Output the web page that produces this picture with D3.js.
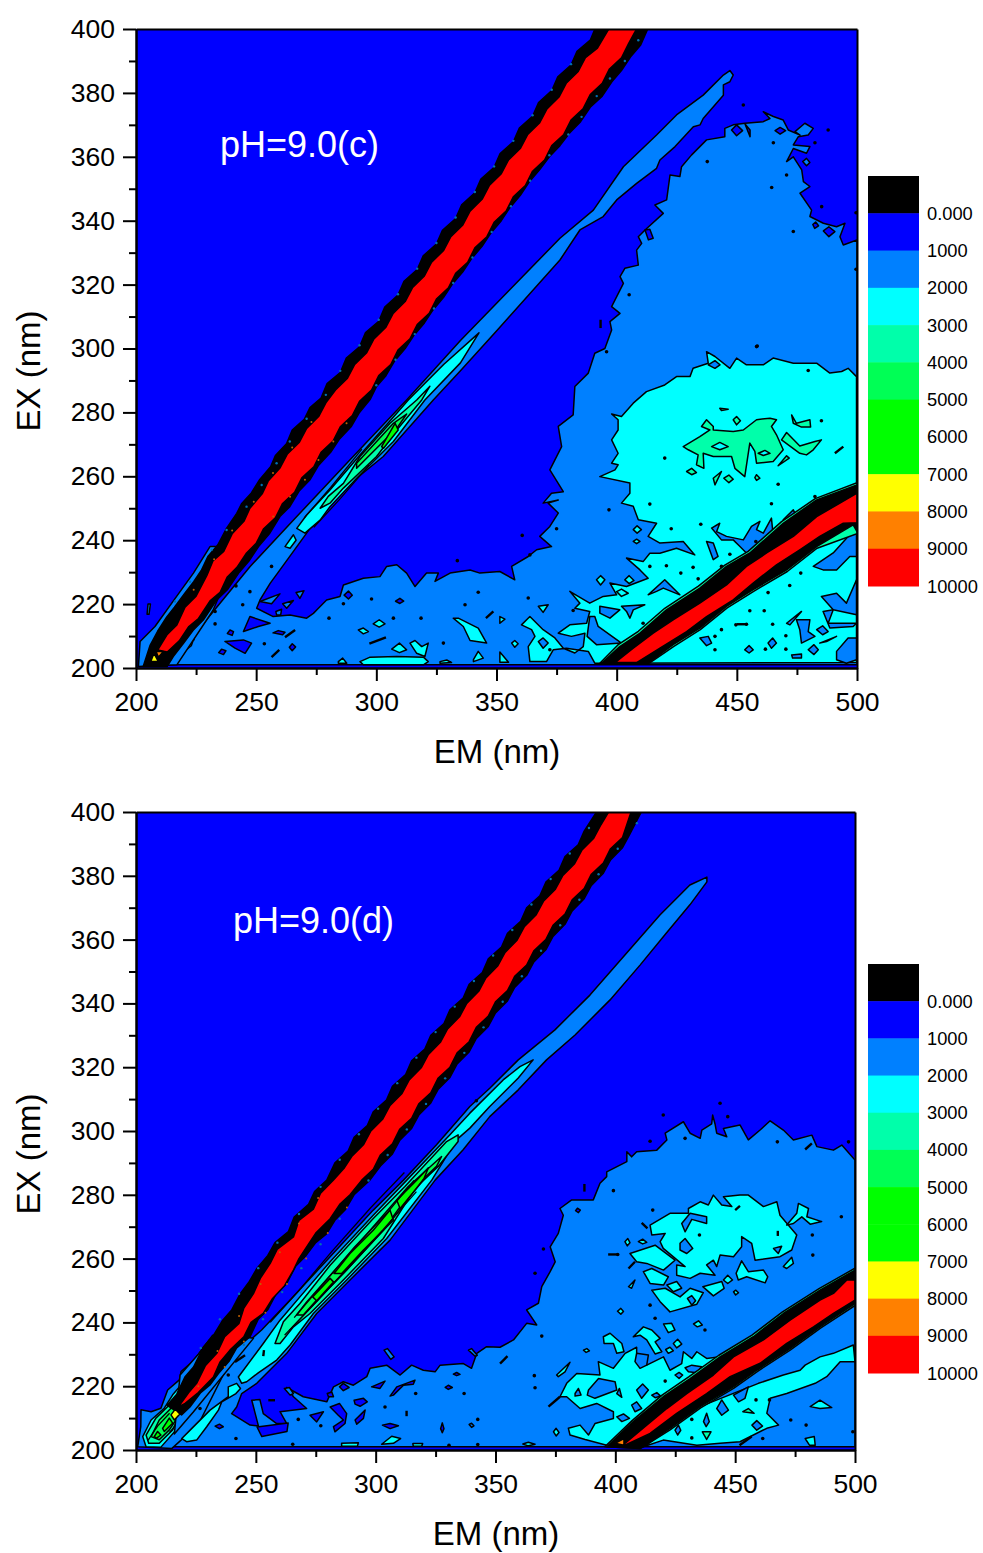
<!DOCTYPE html>
<html>
<head>
<meta charset="utf-8">
<style>
  body { margin: 0; background: #fff; }
  text { font-family: "Liberation Sans", Arial, sans-serif; fill: #000; }
  .region { stroke: #000; stroke-width: 1.5px; stroke-linejoin: round; }
  .axis path, .axis line { stroke: #000; stroke-width: 2px; }
</style>
</head>
<body>
<script src="https://d3js.org/d3.v7.min.js"></script>
<script>
// contour levels, legend
var levelColors = ["#000000","#0000ff","#0080ff","#00ffff","#00ffaa","#00ff55","#00ff00","#00ff00","#ffff00","#ff8000","#ff0000"];
var legendLabels = ["0.000","1000","2000","3000","4000","5000","6000","7000","8000","9000","10000"];
var emMajor = [200,250,300,350,400,450,500];
var emMinor = [225,275,325,375,425,475];
var exMajor = [200,220,240,260,280,300,320,340,360,380,400];
var exMinor = [210,230,250,270,290,310,330,350,370,390];

// ---------- pH=9.0(c) : contour outlines in [EM, EX] ----------
var cMain = [[214,201],[247.4,231.7],[266.9,247.4],[287.7,264.1],[312.6,283.9],[335,302.5],[355,318],[376.4,334.5],[390.3,343.3],[402.8,356.9],[416.6,366.8],[424.9,373.1],[436,379.3],[444.4,385.6],[447.1,387],[448.5,385.6],[447.1,383.5],[444.4,382.5],[444.4,379.3],[436,372],[434.7,370],[431.9,369.4],[424.3,363.2],[418,359],[416.6,356.4],[408.3,351.7],[400,346.5],[394.4,341.3],[384.7,337.1],[376.4,327.7],[350,305.5],[335,293],[323.7,283.9],[302.9,266.2],[280.7,252.6],[271,242.2],[259.9,230.7],[255.8,226.5],[251.6,221.3],[250.2,218.7],[257.1,216.1],[264.1,216.6],[271,215.6],[273.8,217.1],[275.9,218.7],[279.3,221.3],[284.9,222.4],[286.3,226],[294.6,228.1],[301.5,228.6],[304.3,231.8],[308.5,232.3],[312.6,229.7],[316.1,225.5],[320.9,229.7],[325.8,229.7],[324.4,227.1],[330.7,229.7],[339,230.7],[343.1,229.7],[351.4,230.2],[357.6,227.6],[356.3,231.8],[363.2,234.9],[366.7,237],[372.9,238],[368,241.2],[372.2,244.3],[375.7,248.5],[371.5,251.6],[375.7,252.6],[369.4,251.6],[372.9,254.7],[377.8,255.2],[372.2,262],[377.1,269.3],[375.7,275.6],[381.9,279.2],[382.6,288.1],[388.2,292.3],[390.9,298.5],[395.1,300],[397.9,305.8],[397.2,308.4],[401.4,311],[397.9,313.1],[402.8,320.4],[401.4,322.5],[403.4,325.1],[409,326.1],[408.3,330.8],[410.4,332.9],[409,335],[411.8,337.1],[419.4,342.3],[415.9,344.9],[420.8,346.5],[422.2,354.3],[426.3,353.8],[427,356.9],[431.2,360.6],[437.4,365.3],[445,366.3],[445,368.9],[448.5,370],[453.4,370.5],[461,371],[463.8,372],[461,374.1],[465.2,372.6],[469.3,371.5],[471.4,368.4],[476.3,366.8],[474.2,367.9],[478.3,370.5],[481.8,368.9],[479.7,366.8],[475.6,366.3],[473.5,363.7],[480.4,363.2],[479,361.1],[473.5,362.6],[470.7,358.5],[473.5,360],[477,355.9],[477.7,352.2],[480.4,350.7],[476.3,348.6],[481.1,343.3],[480.4,341.3],[486,339.2],[491.5,338.1],[495,339.2],[492.9,335],[494.3,332.4],[500,334],[500,201]];
var cDarkIslands = [
 [[244.7,211.4],[247.4,216.1],[255.8,214],[250.9,213]],
 [[237,208.3],[244.7,208.8],[248.1,207.8],[245.4,204.6],[241.2,206.2]],
 [[239.1,211.9],[238,210.8],[240,210.2],[240.6,211.4]],
 [[259.2,211.7],[257,211],[261,210.4],[262,211.2]],
 [[235.6,205.9],[234.4,204.8],[236.4,204.2],[237.4,205.4]],
 [[265,207.6],[263.8,206.5],[265,205.4],[266.4,206.6]],
 [[309.8,221.8],[308,220.9],[309.8,220.2],[311.4,220.9]],
 [[288.4,224.1],[286.6,222.8],[288.4,221.6],[290,222.8]],
 [[447.8,368.4],[449.9,370],[452.4,368.2],[449.9,366.6]],
 [[465.9,368.2],[468,369.2],[470.3,368.2],[468,367.1]],
 [[486,336.8],[488.3,338.1],[490.8,336.6],[488.3,335]],
 [[411.8,337.1],[413.8,337.3],[415.2,334.5],[413.2,334]],
 [[453.4,370.3],[455.5,366.3],[455.5,368.4]],
 [[482.8,339.6],[484,338.4],[482.4,337.6],[481.6,338.8]]
];
var cLightIslands = [
 [[251.6,220.8],[259.9,223.2],[256.4,220.1]],
 [[261,220.1],[265.5,221.1],[262.7,218.7]],
 [[266.6,223.6],[269.9,224.2],[268.2,221.8]],
 [[258.2,217.7],[260.6,218.4],[260.2,216.6],[258.5,216.6]],
 [[477.4,358.5],[479,359.5],[480.4,358.2],[479,357.2]],
 [[205,220],[206,220],[205.4,216.8],[204.6,216.8]]
];
var cCyanMain = [[499.8,291.2],[496.3,293.8],[493.6,292.8],[488.7,292.3],[483.2,295.4],[473.5,295.4],[465.1,297],[461,294.9],[454,294.9],[449.9,297],[447.1,293.8],[440.9,297.5],[437.4,299],[438.1,295.4],[431.8,293.8],[430.5,291.2],[424.9,291.2],[420,288.6],[412.4,286.5],[406.9,282.9],[402,278.7],[397.9,279.5],[400.6,277.7],[400.6,274.5],[397.9,271.4],[400.6,267.2],[397.9,264.1],[400.6,263.6],[399.3,262],[393,259.9],[405.5,257.9],[405.5,254.7],[402,251.6],[406.9,250.6],[409,246.4],[416.6,245.3],[413.1,241.2],[418,239.1],[427.7,239.6],[432.5,235.4],[424.9,237.5],[418,235.9],[413.8,235.9],[411,233.3],[404.1,234.4],[409.7,230.7],[413.1,228.1],[404.1,225.5],[397.2,226.6],[400,222.9],[394.4,222.4],[388.8,220.3],[384,222.4],[380.5,224],[384.7,220.3],[382.6,218.7],[388.8,217.7],[387.5,214],[380.5,213.5],[375.7,210.9],[381.2,209.9],[386.8,210.9],[386.1,206.7],[382.6,204.7],[377.8,206.2],[374.3,209.4],[369.4,212],[363.9,216.1],[360.4,213.5],[364.6,212],[366,209.9],[363.2,206.7],[363.9,202],[370.8,202],[373.6,205.7],[379.1,206.2],[388.2,205.2],[390.9,201.5],[499.8,201.7]];
var cCyanIslands = [
 [[292.5,211.9],[294.6,212.5],[296.7,211.4],[294.6,210.7]],
 [[298.7,213.8],[301.2,215.1],[303.6,213.8],[301.2,212.8]],
 [[306.4,205.9],[309.6,207.8],[312.6,205.7],[309.6,204.8]],
 [[314,207.8],[316.1,208.6],[318.9,206.7],[321.6,207.8],[320.2,203.6],[316.8,204.6]],
 [[293.2,202],[297.4,203.4],[308.5,203.6],[319.6,203.4],[321.6,202],[319.6,201],[294.6,201]],
 [[284.2,202],[286,203.1],[287.7,201.5],[284.2,201.5]],
 [[326.5,202],[329.3,202.5],[331.3,201.7],[326.5,201.5]],
 [[340.4,202.6],[342.4,205.2],[344.5,203.1],[340.4,202]],
 [[332,215.6],[334.1,215.6],[342.4,212.5],[345.9,207.8],[339,208.6],[336.2,213]],
 [[356.3,207.8],[357.6,208.6],[359,207.6],[357.6,206.5]],
 [[351.4,216.1],[353.5,215.3],[351.4,214]],
 [[351.4,205],[355,201.8],[351.4,201.8]],
 [[391.6,227.6],[393.3,228.9],[395.1,227.6],[393.3,226]],
 [[403.4,227.6],[405.2,228.9],[407.2,227.4],[405.2,226.4]],
 [[400,223.9],[402,224.7],[404.8,223.4],[402,222.4]],
 [[406.9,243.3],[408.5,244.5],[410.3,243.3],[408.5,242.2]],
 [[406.9,239.6],[408.3,240.3],[409.7,239.6],[408.3,238.9]],
 [[367.4,219.3],[371.5,219.8],[369.4,217.4]],
 [[262,238],[265.5,241.7],[266.6,240],[264.1,237.5]],
 [[266.9,243.7],[271,247.9],[280.7,255.7],[293.2,266.7],[308.5,279.7],[313.3,283.9],[328,295],[342.7,304.9],[335,295.5],[320.2,283.9],[307.1,270.9],[291.8,259.4],[280.7,250.5],[276.6,246.3],[270.3,242.2]],
 [[201.7,201.5],[203.3,206.2],[207.9,211.9],[208.6,208.8],[204.4,201.5]],
 [[214,201.5],[226,213.5],[223,207]]
];
var cLightOnCyan = [
 [[469.3,246.4],[473.5,249.5],[475.1,246.9],[472.8,245.3]],
 [[439.5,243.8],[442.9,245.3],[441.6,242.7],[445.7,241.2],[452.7,240.1],[456.1,244.3],[459.6,245.9],[458.2,243.3],[461,242.2],[464.4,246.9],[465.1,241.7],[455.4,234.9],[451.3,238],[448.5,240.1],[443.6,240.1]],
 [[437.4,239.6],[440.2,239.1],[442.2,234.9],[440.2,233.9]],
 [[413.1,222.9],[420,227.6],[426.3,222.9],[419.4,225],[416.6,224]],
 [[393,219.3],[401.3,218.2],[397.2,215.6],[393,217.2]],
 [[402,219.3],[411.7,219.8],[406.9,218.2],[405.5,215.6],[404.1,217.7]],
 [[388.8,216.1],[390.9,216.1],[392.3,213],[402,207.8],[391.6,207.3],[387.7,209.9]],
 [[367.4,208.3],[369.4,209.4],[371.5,207.8],[369.4,206.2]],
 [[438.1,294.9],[440.9,296.2],[443,294.9],[440.9,293.8]],
 [[481.8,231.8],[490.1,236],[496.4,241.2],[499.8,242.7],[499.8,234.9],[497,234.9],[491.5,230.7],[485.9,230.7]],
 [[485.2,222.4],[491.5,223.4],[495.6,220.3],[499.8,227.6],[499.8,216.7],[490.1,218.2]],
 [[485.9,217.7],[490.1,218.2],[488,214],[499.8,214],[498.4,213],[488.7,212.5]],
 [[474.8,215.1],[480.4,215.1],[479.7,211.4],[482.5,209.9],[476.9,207.8],[476.2,212]],
 [[483.2,212],[485.7,213.2],[488,211.4],[485.7,210.4]],
 [[484.5,207.8],[491.5,209.9],[487.3,208.3]],
 [[479.7,205.7],[482.1,207.3],[483.9,205.7],[482.1,204.2]],
 [[491.5,205.2],[496.3,209.4],[499.8,209.4],[499.8,202.6],[495.6,201.5],[491.5,202.6]],
 [[463,207.8],[464.9,209.4],[466.5,207.8],[464.4,206.2]],
 [[434.6,209.4],[438.1,209.9],[439.5,207.8],[437.4,207]],
 [[453.3,205.7],[455.1,207],[456.8,205.7],[455.1,204.7]],
 [[470.7,214],[476.9,217.7],[472.1,213.5]],
 [[472.8,204.1],[476.9,204.4],[476.9,203.1],[473.2,203.1]]
];
var cTeal = [
 [[427.7,269.3],[434.6,272.4],[438.8,274.5],[435.3,275.6],[437.4,277.7],[440.2,275.6],[440.2,274.5],[448.5,274],[452.7,274.5],[458.2,277.7],[463.8,278.2],[466.5,277.7],[464.4,275.6],[466.5,273],[469.3,268.3],[465.1,264.6],[458.2,264.1],[457.5,267.8],[455.4,270.4],[453.3,259.9],[449.2,262.5],[447.8,266.2],[440.2,266.2],[436,267.2],[436.3,262.5],[433.2,263.6],[433.9,266.7],[429.8,268.3]],
 [[468.6,271.4],[470.7,273.7],[476.2,269.5],[482.5,270.9],[485.2,271.4],[481.8,268.3],[479,266.7],[476.2,267.2]],
 [[472.8,279.2],[474.8,276.6],[480.4,277.7],[480.7,275.4],[476.9,275.4],[473.5,276.6]],
 [[448.5,277.7],[449.9,278.7],[451.5,277.4],[449.9,276.1]],
 [[429.1,261.5],[431.2,262.5],[433.2,261.2],[431.2,260.5]],
 [[444.6,259.4],[446.7,260.4],[448.5,259.1],[446.7,258]],
 [[440.2,259.4],[443.6,261.5],[440.9,257.3]],
 [[467.2,263.3],[470.7,266.4],[471.8,265.7]],
 [[442.9,281.3],[446.4,281],[443.6,280.6]],
 [[458.2,260.5],[459.6,259.4],[458.2,258.7],[457.5,259.6]],
 [[276.6,250],[280,253.7],[286.3,257.8],[293.2,266.2],[305.7,276.6],[316.8,283.9],[322.3,288.2],[318.9,283.9],[308.5,274.5],[300.1,266.2],[286.3,256.3],[280.7,251.6]]
];
var cCyanHoles = [
 [[439.5,269.3],[442.9,270.6],[446.4,269.3],[442.9,268.3]],
 [[458.9,267.2],[461.7,268.1],[463.8,267.2],[461,266.5]]
];
var cGreen5 = [[[291.8,264.1],[307.1,276.6],[312.6,279.5],[308.5,275],[300.1,268.8],[291.8,262.5]]];
var cGreen6 = [[[302.2,269.3],[307.8,276.6],[309.1,274.5],[303,268.8]]];
var cDots = [[256.4,231.8],[241.6,225.7],[247.4,223.9],[244.4,219.8],[280.3,215.6],[307.1,215.6],[318.6,215.6],[298,221.6],[342.4,223.7],[336.9,219.8],[286.3,220.1],[232.9,217.7],[232.9,213.8],[253.4,207.6],[327.9,207.8],[333.7,233.6],
 [420,265.7],[467.2,257.5],[482.5,253.7],[464.4,251.4],[413.8,251.3],[396.8,249.5],[435,245],[422.7,243.6],[375,243.6],[360.7,241.5],[363.9,235.4],[395.8,299],[458.5,300.8],[479.7,293.1],[485.2,277.4],[447.1,235.6],[443.6,231.8],[420.7,232],[413.8,231.8],[426.7,229.7],[431.8,231.5],[433.9,227.9],[457.9,239.6],[476.6,229.7],[472,225.8],[463,223.6],[455.4,217.9],[461.4,217.9],[464.9,213.7],[454,213.7],[449.6,213.5],[443.6,212],[440.9,209.9],[470.4,210.1],[440.9,205.7],[461.9,205.9],[470.4,205.9],[411,214],[372.2,205.7],[381.9,218],[363.2,221.9],
 [452.7,376.2],[488,368.4],[437.7,358.5],[465.2,364.4],[482.5,364.4],[470.7,354.3],[464.5,350.4],[405.2,316.8],[458.2,300.6],[485.3,344.4],[473.5,336.6],[499.6,342.5],[499.6,324.8]];
var cStrokes = [[[262,209.6],[266.2,211.9]],[[256.4,203.4],[259.6,205.7]],[[297.1,207.6],[304,209.6]],[[345.6,215.6],[348.7,217.7]],[[223.9,210.4],[223.9,208.6]],[[490.8,267.2],[494.3,269.3]],[[393.3,309],[393.3,306.4]],[[454,213.7],[450,213.7]]];
var cRamanLines = [[[270,247],[281,256.5],[294,268.5]],[[274,244],[285,253],[297,263.5]]];

// first order scatter band, pH=9.0(c)
var cFringe = [[201,200.5],[201.7,208.3],[207.9,213],[216.9,222.4],[223.9,229.7],[230.8,238],[238,238],[240,232],[232,218],[217,201]];
var cBlackLeft = [[203,200.5],[205.8,207],[209,211.5],[212.8,216],[216,219],[220.4,223.5],[224,227],[227.3,230.7],[230,235],[234,238.5],[237.5,243.5],[241.9,248.4],[244,251.5],[248,254.8],[251.5,259],[256,263],[258,266.5],[262.7,270.3],[265,274.5],[270,277.8],[272.4,281.5],[277,284.5],[279.5,289],[285,292.5],[287.5,297],[293,300.5],[295.5,305],[301,308.5],[303.5,313],[309,316.7],[311.5,321],[317,324.7],[319.5,329],[325,332.7],[327.5,337],[333,340.7],[335.5,345],[341,348.7],[343.5,353],[349,356.7],[351.5,361],[357,364.7],[359.5,369],[365,372.7],[367.5,377],[373,380.7],[375.5,385],[381,388.7],[383.5,393],[389,396.5],[391.5,401]];
var cBlackRight = [[213,200.5],[215.5,203.6],[220,208],[224,212],[228,215],[233.6,221.3],[238,224.5],[243,230],[247,233.5],[251,238],[255.5,242],[259.9,247.4],[264,250.5],[268,255.5],[272.5,259],[276,263.5],[281,267.5],[284.5,271.5],[289.5,275.5],[293,280],[297.4,284],[300,288],[304,291.5],[307.5,296],[312,300],[315.5,304],[320,308],[323.5,312],[328,316],[331.5,320],[336,324],[339.5,328],[344,332],[347.5,336],[352,340],[355.5,344],[360,348],[363.5,352],[368,356],[372,360],[376.4,363.5],[380.5,367.5],[385,371],[389,375.5],[394,379],[398,383.5],[402,387],[406,391.5],[410,395],[413.5,401]];
var cRedLeft = [[209,205.6],[213,210.5],[217,213.5],[220.4,219],[225,222.5],[229.5,229],[232,233.5],[236.5,236.5],[240,242],[245,246],[247.4,250],[252.5,254.5],[255,258.5],[260,262.7],[263,267],[268,270.7],[271,275],[276,278.7],[279,283],[283,287],[288,290.7],[291,295],[296,298.7],[299,303],[304,306.7],[307,311],[312,314.7],[315,319],[320,322.7],[323,327],[328,330.7],[331,335],[336,338.7],[339,343],[344,346.7],[347,351],[352,354.7],[355,359],[360,362.7],[363,367],[368,370.7],[371,375],[376,378.7],[379,383],[384,386.7],[387,391],[392,394],[397.5,401]];
var cRedRight = [[213,205],[218,208.5],[222,213],[226,215.5],[230.8,221],[235,223.7],[238,228.5],[242,231.5],[246,236],[250,239],[253,243.5],[258,247],[261,251.5],[266,255],[269,259.5],[274,263],[277,267.5],[282,271],[285,275.5],[290,279],[293,283.5],[298,287],[301,291.5],[306,295],[309,299.5],[314,303],[317,307.5],[322,311],[325,315.5],[330,319],[333,323.5],[338,327],[341,331.5],[346,335],[349,339.5],[354,343],[357,347.5],[362,351],[365,355.5],[370,359],[373,363.5],[378,367],[381,371.5],[386,375],[389,379.5],[394,383],[397,387.5],[402,391],[405,395.5],[409,401]];
// second order scatter band, pH=9.0(c)
var cFringe2 = [[393,201.5],[400.5,207.2],[409,211.5],[420,218.7],[434,225.6],[445,232.2],[454.7,236.5],[468.6,245.8],[482.6,253],[500,258],[500,242],[483.4,237.5],[471,230.2],[457,224],[446,218.8],[434.8,212],[423.8,206.8],[413.6,201.5]];
var cBlack2 = [[393.7,201.5],[401.3,206.7],[409.7,210.9],[420.7,218.2],[434.6,225],[445.7,231.8],[455.4,236],[469.3,245.3],[483.2,252.6],[500,257.3],[500,242.7],[498.4,244.8],[483.2,238],[470.7,230.7],[456.8,224.5],[445.7,219.3],[434.6,212.5],[423.5,207.3],[413.1,201.5]];
var cRed2 = [[399.3,201.7],[406.9,206.2],[415.2,210.9],[423.5,215.1],[434.6,220.3],[445.7,226],[454,231.8],[462.4,236],[473.5,241.2],[483.2,247.4],[492.9,251.6],[500,254.7],[500,245.5],[494.3,245.3],[484.5,241.2],[476.2,237],[466.5,232.3],[456.8,226.6],[448.5,221.3],[437.4,216.1],[429.1,211.4],[418,206.2],[408.3,201.7]];
var cYellow = [[[206.1,202],[207.5,204.6],[209.3,202]]];
var cOrange = [[[208.3,205.2],[211.4,205.2],[209.3,203.4]]];
var cSpecksLight = [[216.2,220.8],[222.5,227],[231.5,237],[237.7,243.2],[246,250.5],[252.3,257.3],[258.5,264.1],[264,270.9],[271,278],[279,285.5],[285,293],[293,301],[301,309],[309,317],[317,325],[325,333],[333,341],[341,349],[349,357],[357,365],[365,373],[373,381],[381,389],[300,288.5],[308,296.5],[316,304.5],[324,312.5],[332,320.5],[340,328.5],[348,336.5],[356,344.5],[364,352.5],[372,360.5],[379.9,367],[385.4,372.5],[391.7,379],[397.2,384.5],[403.4,390],[409,396.5]];
var cSpecksOrange = [[287.6,276.6],[282.1,270.9],[275.9,265.1],[270.3,258.9],[264.1,253.6],[257.1,247.4],[224,224.5],[232.5,234],[240,243],[249,252],[257,261],[265,269],[273,277]];

// ---------- pH=9.0(d) ----------
var dMain = [[215,201],[222,211],[232,222],[244,232],[252.4,237.6],[264.3,247],[281,260.6],[299,275.2],[311.6,284.6],[325.4,295.7],[339.3,307.7],[347.6,313.4],[359.5,322.3],[374.8,331.7],[389.4,342.6],[404,355.2],[418.6,367.7],[431.1,377.1],[438.2,379.6],[438.2,378.1],[431.1,370.9],[420.7,361.5],[410.3,352],[397.8,341.1],[383.2,330.1],[371.3,322.3],[359.5,312.9],[347.6,304.5],[336.5,294.1],[324.8,284.6],[306,265.8],[289.3,253.3],[275.4,242.8],[262.9,230.3],[250.4,220.9],[244.1,217.7],[242,213.5],[239.9,211.4],[247.6,207.8],[251.1,207.5],[248.3,215.6],[251.7,215.8],[253.1,211.4],[258.7,208.3],[262.9,208.3],[260.1,212],[271.2,213],[265.7,216.7],[262.9,219.6],[269.8,216.7],[279.6,215.1],[282.4,219.8],[286.5,221.4],[290.7,220.3],[296.3,223],[297.7,225.6],[304.6,226.6],[310.2,223.5],[315,226.6],[319.9,225],[324.8,224.5],[326.9,226.6],[336.6,227.1],[340,225.6],[342.2,230.3],[346.3,232.4],[351.9,232.2],[357.5,234.5],[363,239.7],[367.2,239.2],[363,243.9],[367.9,246],[369.3,251.2],[372.8,255.9],[374.9,259],[372.8,263.7],[376.2,267.9],[378.3,273.6],[376.9,275.7],[381.8,278.4],[390.8,278.4],[393.6,283.6],[396.4,285.7],[396.4,287.2],[404.8,290.4],[404.8,293.5],[406.8,291.9],[408.9,293.5],[417.3,294],[421.5,297.2],[420.8,299.3],[428.4,302.9],[431.2,299.3],[435.4,297.7],[436.1,300.3],[440.2,302.2],[440.6,305],[441.6,302.2],[442.3,299.3],[446.5,298.2],[445.1,300.8],[452,301.9],[455.5,297.2],[460.4,300.3],[464.6,303.2],[470.1,300.3],[474.3,297.2],[482,298.7],[484.1,295.1],[491,294],[494.5,295.6],[500,290.9],[500,201]];
var dFoot = [[200.7,201],[202,207.3],[202.1,212.6],[206.3,212],[210.4,213.1],[213.2,218.8],[218.1,222],[218.8,224.6],[224.3,228.2],[230.6,234.5],[238,226],[226,208],[215,200.5]];
var dDarkIslands = [
 [[250.5,207.2],[263.5,208.5],[263,205.8],[252.5,204.2]],
 [[298.3,219.8],[303.9,221.6],[301.8,219.3]],
 [[306,216.9],[308.8,219.8],[316.4,221.9],[315.7,220.6],[311.6,220.3],[307.4,217.2]],
 [[284.9,219.8],[286.5,220.9],[288.9,219.6],[286.5,218.6]],
 [[279.8,217.7],[281.7,218.2],[282.4,216.7],[280.3,216.7]],
 [[291,215.6],[294.9,216.2],[296.5,215.1],[293.5,213.7],[291.4,214.4]],
 [[281,213.5],[284.9,214.6],[287.9,211.4],[287.2,208.3],[283,205.7],[282.4,207.3],[286.5,209.4],[284.4,210.9]],
 [[291.4,209.4],[295.6,212.5],[294.9,209.9],[292.1,208.1]],
 [[302.8,207.8],[306,208.3],[309.5,207.6],[306,206.7]],
 [[272.6,210.9],[278.2,212],[275.4,208.8]],
 [[233,207.5],[234.8,208.1],[236.4,207.3],[234.8,206.7]],
 [[327.1,206.7],[327.8,208.5],[328.5,206.7],[327.8,205.4]],
 [[329,219.6],[330.3,220.3],[332,219.6],[330.3,219]],
 [[332.4,223.8],[333.8,224.3],[335.2,223.7],[333.8,223.3]],
 [[384.2,275.8],[385.4,275.2],[384.6,274.4],[383.4,275]]
];
var dLightIslands = [
 [[338.7,231.3],[340,231.8],[342.4,229.7],[341.5,229.4]],
 [[303.5,231.3],[304.9,231.8],[307.7,229.2],[306.3,228.4]],
 [[261.9,219.3],[264,219.6],[265.7,217.7],[264.3,217.2]],
 [[339,208],[340,208.4],[341,207.6],[340,207.1]]
];
var dCyan = [
 [[414.5,270.5],[422.8,274.2],[430.5,274.2],[430.5,275.7],[435.4,277.8],[438.8,276.8],[440.9,279.9],[444.4,276.8],[448.6,276.3],[445.1,279.4],[452,279.9],[455.5,279.9],[461.8,276.3],[467.4,277.8],[468.7,273.6],[475.7,267.4],[473.6,262.7],[468.7,260.6],[458.3,259.5],[456.9,264.8],[452.7,266.9],[452.7,263.7],[449.3,260.6],[443.7,261.1],[442.3,257.5],[440.9,259.5],[438.1,258],[441.6,254.8],[435.4,255.4],[431.2,253.8],[425.6,254.8],[425.6,258],[429.1,257.5],[420,263.2],[418.7,265.3],[420.8,267.9],[415.2,267.4]],
 [[471.5,270.5],[475.7,274.2],[476.4,277.3],[480.6,275.7],[479.9,273.1],[486.1,271.6],[481.3,270.8],[477.8,273.1],[474.3,271]],
 [[406.1,261.6],[416.6,264.2],[424.9,259.5],[420.1,256.4],[413.1,258.5],[408.9,259]],
 [[411.7,255.9],[415.2,256.9],[422.1,254.3],[420.1,251.7],[414.5,252.2]],
 [[421.5,251.7],[425.6,252.8],[427.7,250.7],[424.2,249.6]],
 [[415.2,250.1],[420.8,250.7],[427,248],[431.2,250.7],[436.7,249.3],[434,245.7],[422.8,243.3],[418.7,246.5]],
 [[436.5,251.2],[444.4,252.8],[445.4,250.7],[440.9,248.3]],
 [[445.1,253.3],[446.9,254.8],[448.9,253.3],[446.9,252.2]],
 [[450.4,255.4],[452.7,259.3],[455.5,255.9],[461.8,256.4],[463.6,254.3],[462.5,252.4],[454.8,254.3],[451.3,253.3]],
 [[449.3,249.6],[450.2,250.1],[451.4,249.3],[450.2,248.6]],
 [[470.1,257.5],[473.6,260.4],[474.3,258.5],[471.5,256.9]],
 [[405.5,251.2],[408.2,253.3],[406.8,250.7]],
 [[404,265.3],[405.2,266.3],[406.1,265],[405,264]],
 [[409.6,265.3],[411.4,266.1],[413.1,265.1],[411.4,264.6]],
 [[400.9,243.5],[402.3,244.4],[403.4,243.4],[402.3,242.6]],
 [[376.9,216.7],[379.7,220.9],[383.9,224],[393.6,223.5],[392.9,227.7],[399.2,225.6],[404.1,230.3],[408.9,232.2],[408.9,227.2],[413.1,226.6],[420.1,229.2],[422.8,225],[427.7,227.1],[428.4,230.8],[431.9,228.7],[434,230.8],[438.1,228.7],[443.7,229.2],[438.1,219.8],[407.5,201],[396.4,201.5],[387.4,203.3],[381.1,204.7],[380.4,206.8],[385.3,207.8],[388.8,204.7],[391.5,208.3],[399.2,209.9],[399.2,212],[392.2,214.6],[385.3,213],[379.7,216.7]],
 [[395,235.5],[397.8,236.6],[402.7,233.4],[403.6,230.8],[400.6,230.3],[399.2,233.4],[395.3,233.4]],
 [[407.5,235.5],[411.7,238.6],[415.2,237.6],[418.7,235],[416.6,233.9],[419.4,230.8],[416.6,230.1],[413.1,234.5],[410.3,236]],
 [[420.1,239.5],[423.5,239.7],[424.9,237.6],[422.1,236.8]],
 [[432.6,239.5],[434.7,240.5],[436.3,239.2],[434.2,238.6]],
 [[424.2,233.4],[426,234.7],[427.7,233.2],[425.6,232]],
 [[421,231.5],[422.8,232.2],[424.2,231.1],[422.1,230.3]],
 [[386.7,231.3],[388.1,231.8],[389.2,231.1],[387.8,230.6]],
 [[375.5,223.5],[381.1,227.5],[379,224.5],[376.2,223]],
 [[374.2,205.7],[375.3,206.8],[376.5,205.5],[375.3,204.4]],
 [[361.4,201.9],[363.7,202.4],[366.5,201.8],[363.7,201.3]],
 [[459.7,220.9],[470.1,223.5],[477.1,225],[479.2,226.6],[485.4,229.2],[491,230.3],[499.3,232.9],[500,227.7],[493.8,227.7],[488.2,223],[483.4,220.9],[471.5,217.7],[464.6,216.2],[463.2,211.5],[468.1,207.8],[463.2,206.8],[452,202.6],[443.7,202.1],[434,201.5],[420,203.1],[411.7,201],[435.4,213.6]],
 [[481.3,213.6],[485.4,215.6],[490.3,213.3],[485.4,213]],
 [[479.2,203.6],[483,204.2],[483.4,201.5],[481,201.5]],
 [[285.8,202.1],[292.8,202.3],[292.4,201.2],[285.8,201.2]],
 [[302.5,201.8],[306.7,204.3],[310.4,203.6],[307.4,202.1]],
 [[315.5,202],[319.6,202],[319.2,201.2],[315.7,201.2]],
 [[219.1,203.6],[223.2,206.7],[230.9,212.5],[238.5,216.7],[238.5,219.8],[242,220.9],[243.6,219.3],[241.7,217.7],[235.8,215.1],[234.4,212.5],[229.5,207.3],[225.3,203.1],[221.1,202.6]],
 [[242.7,222.9],[253.1,233.4],[260.1,240.7],[268.4,248],[281,259],[299,273.6],[313,284.6],[331,298.8],[339.3,305.6],[353.2,316],[360.2,320.2],[365.7,322.3],[359.5,316.6],[347.6,307.7],[339.3,300.9],[333.7,297.2],[323.4,284.6],[304.6,266.3],[287.9,253.3],[274,242.8],[264.3,232.9],[258.7,228.2],[251,224.2],[246.2,221.4],[244.1,220.9]],
 [[202.8,204.2],[206.3,209.4],[211.8,213.1],[215.3,217.3],[218.8,220.4],[223.6,216.7],[216.7,206.3],[210.4,200.9],[204.2,201]]
];
var dCyanHoles = [
 [[427,264.8],[429.1,266.3],[432.3,263.2],[429.8,261.6],[427,262.7]],
 [[427.7,271],[431.2,274.2],[438.1,273.1],[438.1,271],[431.9,272.3],[429.1,268.4]],
 [[466,263.2],[469.4,263.9],[468,261.6]],
 [[430.1,247.5],[431.9,248.4],[433.5,246.8],[431.9,245.4]],
 [[388.8,218.8],[393,222.4],[399.9,221.4],[400.6,218.8],[391.5,216.2],[388.3,217.2]],
 [[383.2,217.7],[384.6,219.3],[385.7,217.2],[383.2,216.9]],
 [[408.9,218.8],[411.4,220.7],[413.8,218.8],[411,216.2]],
 [[400.6,217.7],[401.7,219.3],[402.7,216.5]],
 [[406.8,214.1],[408.9,215.1],[411,213],[408.2,212]],
 [[400.6,210.4],[403.4,211.3],[405.9,209.9],[402.7,208.9]],
 [[415.2,217.2],[417.3,218],[418.9,216.9],[416.6,216.4]],
 [[408.9,230.3],[413.8,229.8],[413.1,226.6],[410.3,225.6],[408.2,227.7]],
 [[429.1,225.8],[431.9,226.6],[436,226.1],[434,224.2],[430.5,224.5]],
 [[424.9,223.5],[426.6,224.3],[428.1,223.5],[426.6,222.4]],
 [[449.3,217.2],[455.5,219.8],[454.1,216.2],[451.4,215.1]],
 [[442.3,213],[444.4,215.7],[447.2,212.5],[444.4,210.9]],
 [[436.8,208.9],[438.1,211.5],[439.2,208.9],[437.9,207.3]],
 [[424.9,206.2],[426.3,207.8],[427.3,206.2],[426,204.7]],
 [[457,207.8],[459,209.2],[461.4,207.5],[459,206.2]]
];
var dTeal = [
 [[453.2,212],[455.5,213],[457.9,211.5]],
 [[436.3,205.7],[439.9,205.7],[438.1,203.3]],
 [[258,233.4],[261.5,240.2],[268.4,245.9],[281,257.9],[299,272.6],[312.2,282.6],[329.6,296.7],[334.4,298.8],[334.4,296.7],[326.1,288.9],[316.4,282],[303.2,266.3],[286.5,253.3],[272.6,242.8],[265.7,238.6],[260.1,233.4]],
 [[204.2,204.7],[208.3,210],[213.9,214.1],[218.8,217.3],[220.9,215.2],[215.3,206.3],[209.7,202.1],[205.3,202.1]]
];
var dGreen5 = [
 [[267,242.3],[271.2,246.4],[282.4,255.9],[297.7,268.9],[313.6,282.6],[327.5,292],[325.4,288.9],[315.7,282],[303.2,268.9],[286.5,255.3],[275.4,247],[269.8,242.3]],
 [[206.3,204.2],[209.7,209.4],[214.6,213.1],[218.8,214.6],[218.1,211],[213.9,206.3],[209.7,203.2]]
];
var dGreen6 = [
 [[273.7,248],[281,253.8],[282.4,252.7],[275.4,246.8]],
 [[282.6,255.3],[289.3,261.6],[299,268.9],[306,275.2],[307.4,272],[294.9,262.7],[285.8,255.3]],
 [[308.8,278.3],[317.1,284.6],[322,288.5],[319.9,284.6],[310.2,275.7]],
 [[211.1,206.8],[213.9,210],[215.3,208.4],[211.8,205.8]],
 [[207.6,204.2],[209,205.8],[210.4,204.7],[208.6,203.7]]
];
var dYellow = [[[214.6,211],[216.4,212.8],[218.3,211.3],[216,209.4]]];
var dOrange = [[[399.9,202.1],[403.6,203.6],[403.6,201.5]]];
var dDots = [[238.5,223.5],[226.7,213],[241.7,203.6],[265.4,201.8],[267.7,209.6],[277.1,207.6],[303.9,213.5],[316.7,217.7],[336.9,217.7],[342.6,209.6],[330.6,201.5],[342.6,201.7],
 [443.7,308.7],[420,305],[446.9,304.5],[414.5,296.8],[429.1,297.7],[467.6,296.6],[497.3,296.6],[370,263],[399.2,281.3],[415.6,275.2],[435.1,267.4],[482.2,267.4],[494.3,273.1],[482.4,261.1],[366.5,255.4],[401,261.3],[414.5,245.4],[416.6,241.3],[437.4,237.6],[369.3,235.7],[366.2,223.3],[366.5,219.5],[420.8,221.6],[458.7,215.7],[464.3,215.7],[431.9,209.6],[473.2,209.4],[479.6,207.8],[461.5,203.6],[499.1,205.7],[431.9,203.8],[342,309.5]];
var dStrokes = [[[312.9,212.3],[312.9,210.6]],[[255.2,215.6],[258,215.6]],[[253.4,231.3],[253.1,229.4]],[[241.3,227.6],[245.5,229.7]],[[479.2,294.2],[482,296.1]],[[387.1,283.4],[387.1,281]],[[411,271.2],[413.4,269.5]],[[372.1,213.6],[376.9,216.7]],[[405.5,256.9],[408.2,259]],[[451.8,201.5],[456.9,204.2]],[[351.9,227.1],[355,229.4]],[[467.8,268.7],[467.8,267.1]],[[450,275.2],[452,276.5]],[[401,261.3],[397,261.3]]];
var dRamanLines = [[[256,240],[268,250],[282,262.5],[298,276],[312,287]],[[262,236],[274,245.5],[288,256.5],[304,269.5],[320,285]],[[266,241.5],[278,252],[291,263.5],[305,274.5],[316,284.5]],[[264,237.5],[276,247],[290,258.5],[303,269],[317,281]],[[205,203],[209,207.5],[214,211.5]],[[214,205.5],[219,210],[223,214]]];

var dFringe = [[218.4,223.5],[226,230],[232,236],[240,236],[249,235],[224,212],[216,205]];
var dBlackLeft = [[213,214],[217,217.5],[220.4,222.9],[224,226],[228.1,232.3],[232,235.5],[236,240.5],[240,244],[243.5,249],[247,252.5],[250.5,257],[255,261],[258,265],[263.6,268.5],[266,273],[272,277],[274.5,281],[279.6,284.6],[283,290],[288.5,293.7],[291,298],[296.5,301.7],[299,306],[304.5,309.7],[307,314],[312.5,317.7],[315,322],[320.5,325.7],[323,330],[328.5,333.7],[331,338],[336.5,341.7],[339,346],[344.5,349.7],[347,354],[352.5,357.7],[355,362],[360.5,365.7],[363,370],[368.5,373.7],[371,378],[376.5,381.7],[379,386],[384.5,389.7],[387,394],[393,401]];
var dBlackRight = [[219,211],[222.5,213.5],[227,218],[231,220.5],[234.4,224],[239,228],[242,232],[247.6,235.5],[251,241],[255,244],[258.5,249],[262.9,252.2],[266.5,257.5],[271,261],[275,265],[279.6,267.8],[283,272],[287.5,275.5],[291,280],[297.6,284.6],[302,289],[307,292.8],[310,297],[315,300.8],[318,305],[323,308.8],[326,313],[331,316.8],[334,321],[339,324.8],[342,329],[347,332.8],[350,337],[355,340.8],[358,345],[363,348.8],[366,353],[371,356.8],[374,361],[379,364.8],[382,369],[387,372.8],[390,377],[395,380.8],[398,385],[403,388.8],[406,393],[411.5,401]];
var dRedLeft = [[217.7,213.5],[222,218],[225.3,220.9],[229,226.5],[233.7,230.3],[237,235.5],[243,239.7],[245,244.5],[249,249],[252,254],[256,258.5],[259,263],[265.7,266.8],[268,272],[274,275.5],[277,280.5],[282.3,284.6],[287,288.5],[290,292],[295,295.8],[298,300],[303,303.8],[306,308],[311,311.8],[314,316],[319,319.8],[322,324],[327,327.8],[330,332],[335,335.8],[338,340],[343,343.8],[346,348],[351,351.8],[354,356],[359,359.8],[362,364],[367,367.8],[370,372],[375,375.8],[378,380],[383,383.8],[386,388],[391,391.8],[394,396],[398,401]];
var dRedRight = [[220.5,214.6],[226,218],[232.3,222.9],[235,227.5],[239.2,231.3],[245,235.5],[248,240],[253.1,242.8],[257,247.5],[262,251.5],[265.7,256.4],[268,260],[271.2,263.7],[275,268],[281,272.5],[285,277],[289.3,280],[294.2,284.6],[299,288],[302,292.5],[307,296],[310,300.5],[315,304],[318,308.5],[323,312],[326,316.5],[331,320],[334,324.5],[339,328],[342,332.5],[347,336],[350,340.5],[355,344],[358,348.5],[363,352],[366,356.5],[371,360],[374,364.5],[379,368],[382,372.5],[387,376],[390,380.5],[395,384],[398,388.5],[403,392],[407,401]];
var dFringe2 = [[395.6,201],[407,209.2],[419.5,217.2],[430.6,222.9],[443.2,229.7],[457,236],[469.6,243.2],[485,250.6],[500,257],[500,245.3],[485.6,238.2],[473.1,231.4],[459.2,224.6],[449.5,219.4],[435.6,213.2],[423,206.4],[410.6,200.5]];
var dBlack2 = [[396.4,201],[407.5,208.9],[420,216.7],[431.2,222.4],[443.7,229.2],[457.6,235.5],[470.1,242.8],[485.4,250.1],[500,256.4],[500,245.9],[485.4,238.6],[472.9,231.8],[459,225],[449.3,219.8],[435.4,213.6],[422.8,206.8],[410.3,200.5]];
var dRed2 = [[404,202.1],[413.1,207.8],[421.5,213],[429.8,217.7],[440.9,223.5],[449.3,229.2],[461.8,234.5],[472.9,240.7],[485.4,247],[491,249.1],[496.6,253.3],[500,253.3],[500,247],[491,242.8],[482.7,238.6],[471.5,233.4],[460.4,227.2],[447.9,223],[438.1,217.7],[425.6,211.5],[414.5,205.2],[404,201.5]];
var dSpecksLight = [[227,232],[235,241],[243,249],[251,257],[259,265],[268,274],[277,282.5],[285,291],[293,299],[301,307],[309,315],[317,323],[325,331],[333,339],[341,347],[349,355],[357,363],[365,371],[373,379],[381,387],[389,395],[409,396.5],[401,388.5],[393,380.5],[385,372.5],[377,364.5],[369,356.5],[361,348.5],[353,340.5],[345,332.5],[337,324.5],[329,316.5],[321,308.5],[313,300.5],[305,292.5],[297,284.5],[285,272.5],[277,264.5],[269,257],[261,249.5],[253,241],[245,233]];
var dSpecksOrange = [[226,220],[234,231],[243,242],[252,252],[260,262],[268,271],[276,279],[288,276],[280,268],[271,260],[263,252],[254,243],[245,234],[237,226]];

var width = 983, height = 1553;
var svg = d3.select("body").append("svg").attr("width", width).attr("height", height);

function drawPanel(p) {
  var x = d3.scaleLinear().domain([200,500]).range(p.xr);
  var y = d3.scaleLinear().domain([200,400]).range(p.yr);
  var line = d3.line().x(d => x(d[0])).y(d => y(d[1]));

  svg.append("clipPath").attr("id", p.id)
     .append("rect").attr("x", p.xr[0]).attr("y", p.yr[1])
     .attr("width", p.xr[1]-p.xr[0]).attr("height", p.yr[0]-p.yr[1]);

  var g = svg.append("g").attr("clip-path", "url(#"+p.id+")");
  g.append("rect").attr("x", p.xr[0]).attr("y", p.yr[1])
     .attr("width", p.xr[1]-p.xr[0]).attr("height", p.yr[0]-p.yr[1])
     .attr("fill", levelColors[1]);

  p.layers.forEach(function(l) {
    g.append("g").selectAll("path").data(l[1]).join("path")
      .attr("class", "region")
      .attr("fill", levelColors[l[0]])
      .attr("d", d => line(d) + "Z");
  });

  // little closed contours
  g.append("g").selectAll("circle").data(p.dots).join("circle")
     .attr("cx", d => x(d[0])).attr("cy", d => y(d[1])).attr("r", 1.8).attr("fill", "#000");
  g.append("g").selectAll("path").data(p.strokes).join("path")
     .attr("d", line).attr("stroke", "#000").attr("stroke-width", 2.4).attr("fill", "none");
  g.append("g").selectAll("path").data(p.ramanLines).join("path")
     .attr("d", line).attr("stroke", "#000").attr("stroke-width", 1.3).attr("fill", "none");

  // scatter bands go on top
  p.bands.forEach(function(b) {
    g.append("path").attr("class", "region").attr("fill", levelColors[b[0]]).attr("d", line(b[1]) + "Z");
  });
  g.append("g").selectAll("circle").data(p.specksLight).join("circle")
     .attr("cx", d => x(d[0])).attr("cy", d => y(d[1])).attr("r", 1.2).attr("fill", "#0070b0");
  g.append("g").selectAll("circle").data(p.specksOrange).join("circle")
     .attr("cx", d => x(d[0])).attr("cy", d => y(d[1])).attr("r", 1).attr("fill", "#c06000");
  p.tops.forEach(function(l) {
    g.append("g").selectAll("path").data(l[1]).join("path")
      .attr("class", "region").attr("fill", levelColors[l[0]]).attr("d", d => line(d) + "Z");
  });

  // axes
  var bottom = p.yr[0], left = p.xr[0];
  svg.append("g").attr("class", "axis").attr("transform", "translate(0,"+bottom+")")
     .call(d3.axisBottom(x).tickValues(emMinor).tickSize(7).tickFormat("").tickSizeOuter(0));
  svg.append("g").attr("class", "axis").attr("transform", "translate(0,"+bottom+")")
     .call(d3.axisBottom(x).tickValues(emMajor).tickSize(13).tickSizeOuter(0).tickPadding(11.5))
     .selectAll("text").attr("font-size", 26.5);
  svg.append("g").attr("class", "axis").attr("transform", "translate("+left+",0)")
     .call(d3.axisLeft(y).tickValues(exMinor).tickSize(7).tickFormat("").tickSizeOuter(0));
  svg.append("g").attr("class", "axis").attr("transform", "translate("+left+",0)")
     .call(d3.axisLeft(y).tickValues(exMajor).tickSize(13).tickSizeOuter(0).tickPadding(8))
     .selectAll("text").attr("font-size", 26.5);
  svg.append("g").attr("class", "axis").attr("transform", "translate(0,"+p.yr[1]+")")
     .call(d3.axisTop(x).tickValues([]).tickSizeOuter(0));
  svg.append("g").attr("class", "axis").attr("transform", "translate("+p.xr[1]+",0)")
     .call(d3.axisRight(y).tickValues([]).tickSizeOuter(0));
  svg.selectAll(".axis text").attr("font-family", "Liberation Sans").attr("fill", "#000");

  svg.append("text").attr("x", p.emLabel[0]).attr("y", p.emLabel[1])
     .attr("text-anchor", "middle").attr("font-size", 33).text("EM (nm)");
  svg.append("text").attr("transform", "translate("+p.exLabel[0]+","+p.exLabel[1]+") rotate(-90)")
     .attr("text-anchor", "middle").attr("font-size", 33).text("EX (nm)");
  svg.append("text").attr("x", p.title[0]).attr("y", p.title[1])
     .attr("font-size", 36).style("fill", "#fff").text(p.name);

  // legend
  var ly = d3.scaleLinear().domain([0, levelColors.length]).range(p.legend);
  svg.append("g").selectAll("rect").data(levelColors).join("rect")
     .attr("x", 868).attr("width", 51)
     .attr("y", (d,i) => ly(i)).attr("height", (d,i) => ly(i+1)-ly(i)+0.5)
     .attr("fill", d => d);
  svg.append("g").selectAll("text").data(legendLabels).join("text")
     .attr("x", 927).attr("y", (d,i) => ly(i+1)).attr("dy", "0.36em")
     .attr("font-size", 18.3).text(d => d);
}

drawPanel({
  id: "clipc", name: "pH=9.0(c)", xr: [136,857], yr: [668,29], title: [220,157],
  emLabel: [497,763], exLabel: [40,371], legend: [176,586],
  layers: [[2,[cMain]],[1,cDarkIslands],[2,cLightIslands],[3,[cCyanMain]],[2,cLightOnCyan],[3,cCyanIslands],[4,cTeal],[3,cCyanHoles],[5,cGreen5],[6,cGreen6]],
  dots: cDots, strokes: cStrokes, ramanLines: cRamanLines,
  bands: [[2,cFringe],[0,cBlackLeft.concat(cBlackRight.slice().reverse())],[10,cRedLeft.concat(cRedRight.slice().reverse())],[4,cFringe2],[0,cBlack2],[10,cRed2]],
  specksLight: cSpecksLight, specksOrange: cSpecksOrange,
  tops: [[8,cYellow],[9,cOrange]]
});

drawPanel({
  id: "clipd", name: "pH=9.0(d)", xr: [136,855], yr: [1450,812], title: [233,933],
  emLabel: [496,1545], exLabel: [40,1154], legend: [964,1373],
  layers: [[2,[dMain,dFoot]],[1,dDarkIslands],[2,dLightIslands],[3,dCyan],[2,dCyanHoles],[4,dTeal],[5,dGreen5],[6,dGreen6]],
  dots: dDots, strokes: dStrokes, ramanLines: dRamanLines,
  bands: [[2,dFringe],[0,dBlackLeft.concat(dBlackRight.slice().reverse())],[10,dRedLeft.concat(dRedRight.slice().reverse())],[4,dFringe2],[0,dBlack2],[10,dRed2]],
  specksLight: dSpecksLight, specksOrange: dSpecksOrange,
  tops: [[8,dYellow],[9,dOrange]]
});
</script>
</body>
</html>
